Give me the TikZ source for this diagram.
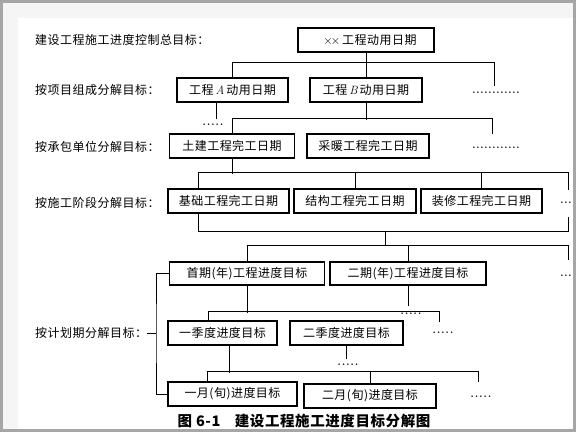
\documentclass[tikz,border=0pt]{standalone}
\usepackage{fontspec}
\newfontfamily\cjk[LetterSpace=4]{Noto Sans CJK SC}
\newcommand{\dotrow}[1]{\makebox[#1pt]{\xleaders\hbox to 4pt{\hss.\hss}\hfill}}
\tikzset{
  goal/.style={draw, line width=1.2pt, minimum height=24pt, inner sep=0pt,
    font=\cjk\fontsize{12}{14}\selectfont},
  level/.style={anchor=west, inner sep=0pt, font=\cjk\fontsize{12}{14}\selectfont},
  link/.style={line width=1pt},
  dots/.style={inner sep=0pt, font=\bfseries},
}
\begin{document}
\begin{tikzpicture}[x=1pt, y=-1pt]
  % frame
  \useasboundingbox (0,0) rectangle (576,432);
  \fill[gray!8] (0,0) rectangle (576,18);
  \fill[gray!8] (0,0) rectangle (18,432);
  \draw[gray!70, line width=3pt] (1.5,1.5) rectangle (574.5,430.5);

  % level labels
  \node[level] (l1) at (35,40) {建设工程施工进度控制总目标：};
  \node[level] (l2) at (35,90) {按项目组成分解目标：};
  \node[level] (l3) at (35,147) {按承包单位分解目标：};
  \node[level] (l4) at (35,203) {按施工阶段分解目标：};
  \node[level] (l5) at (35,333) {按计划期分解目标：};

  % goals
  \node[goal, minimum width=136pt] (total) at (366,40) {\hspace{8pt}{\rmfamily$\times\!\times$}\,工程动用日期};
  \node[goal, minimum width=111pt] (A) at (232.5,90) {工程\,{\rmfamily\itshape A}\,动用日期};
  \node[goal, minimum width=112pt] (B) at (366,90) {工程\,{\rmfamily\itshape B}\,动用日期};
  \node[goal, minimum width=125pt] (tujian) at (232,146) {土建工程完工日期};
  \node[goal, minimum width=122pt] (cainuan) at (368,146) {采暖工程完工日期};
  \node[goal, minimum width=121pt] (jichu) at (228.5,201) {基础工程完工日期};
  \node[goal, minimum width=122pt] (jiegou) at (355,201) {结构工程完工日期};
  \node[goal, minimum width=121pt] (zhuangxiu) at (481.5,201) {装修工程完工日期};
  \node[goal, minimum width=155pt, minimum height=23pt] (shouqi) at (247,273.5) {首期(年)工程进度目标};
  \node[goal, minimum width=156pt, minimum height=23pt] (erqi) at (408,273.5) {二期(年)工程进度目标};
  \node[goal, minimum width=109pt] (jidu1) at (222.5,333) {一季度进度目标};
  \node[goal, minimum width=113pt] (jidu2) at (346.5,333) {二季度进度目标};
  \node[goal, minimum width=129pt] (yue1) at (232.5,394) {一月(旬)进度目标};
  \node[goal, minimum width=132pt] (yue2) at (370,396) {二月(旬)进度目标};

  % stub ends
  \coordinate (s1) at (494,86);
  \coordinate (s2) at (492,134);
  \coordinate (s3) at (568,190);
  \coordinate (s4) at (568,217);
  \coordinate (s5) at (568,260);
  \coordinate (s6) at (439,322);
  \coordinate (s7) at (478,382);
  \coordinate (m1) at (385,231);
  \coordinate (brk) at (156,333);

  % connectors
  \draw[link] (total.south) -- (B.north);
  \draw[link] (A.north) -- ++(0,-15) -| (s1);
  \draw[link] ([xshift=-16pt]A.south) -- ++(0,16);
  \draw[link] (B.south) -- ++(0,17);
  \draw[link] (tujian.north) -- ++(0,-15) -| (s2);
  \draw[link] (tujian.south) -- ++(0,15);
  \draw[link] ([xshift=-30.5pt]jichu.north) -- ++(0,-16) -| (s3);
  \draw[link] (jiegou.north) -- ++(0,-16);
  \draw[link] (zhuangxiu.north) -- ++(0,-16);
  \draw[link] ([xshift=-30.5pt]jichu.south) -- ++(0,18) -| (s4);
  \draw[link] (m1) -- ++(0,15);
  \draw[link] (shouqi.north) -- ++(0,-16) -| (s5);
  \draw[link] (erqi.north) -- ++(0,-16);
  \draw[link] (erqi.south) -- ++(0,20);
  \draw[link] (shouqi.south) -- ++(0,27);
  \draw[link] ([xshift=-14.5pt]jidu1.north) -- ++(0,-9) -| (s6);
  \draw[link] ([xshift=6.5pt]jidu1.south) -- ++(0,27);
  \draw[link] (jidu2.south) -- ++(0,13);
  \draw[link] ([xshift=-25.5pt]yue1.north) -- ++(0,-10) -| (s7);
  \draw[link] (yue2.north) -- ++(0,-12);
  \draw[link] (shouqi.west) -| (brk) |- (yue1.west);
  \draw[link] (l5.east) -- (brk);

  % continuation dots
  \node[dots] (d1) at (496,93) {\dotrow{48}};
  \node[dots] (d2) at (213,125) {\dotrow{22}};
  \node[dots] (d3) at (496,148) {\dotrow{48}};
  \node[dots] (d4) at (566,203) {\dotrow{12}};
  \node[dots] (d5) at (566,276) {\dotrow{12}};
  \node[dots] (d6) at (411,314) {\dotrow{22}};
  \node[dots] (d7) at (443,333) {\dotrow{22}};
  \node[dots] (d8) at (348,365) {\dotrow{22}};
  \node[dots] (d9) at (481,397) {\dotrow{22}};

  % caption
  \node[font=\cjk\bfseries\fontsize{14.5}{17}\selectfont] (cap) at (304,421) {图 6-1\quad 建设工程施工进度目标分解图};
\end{tikzpicture}
\end{document}
